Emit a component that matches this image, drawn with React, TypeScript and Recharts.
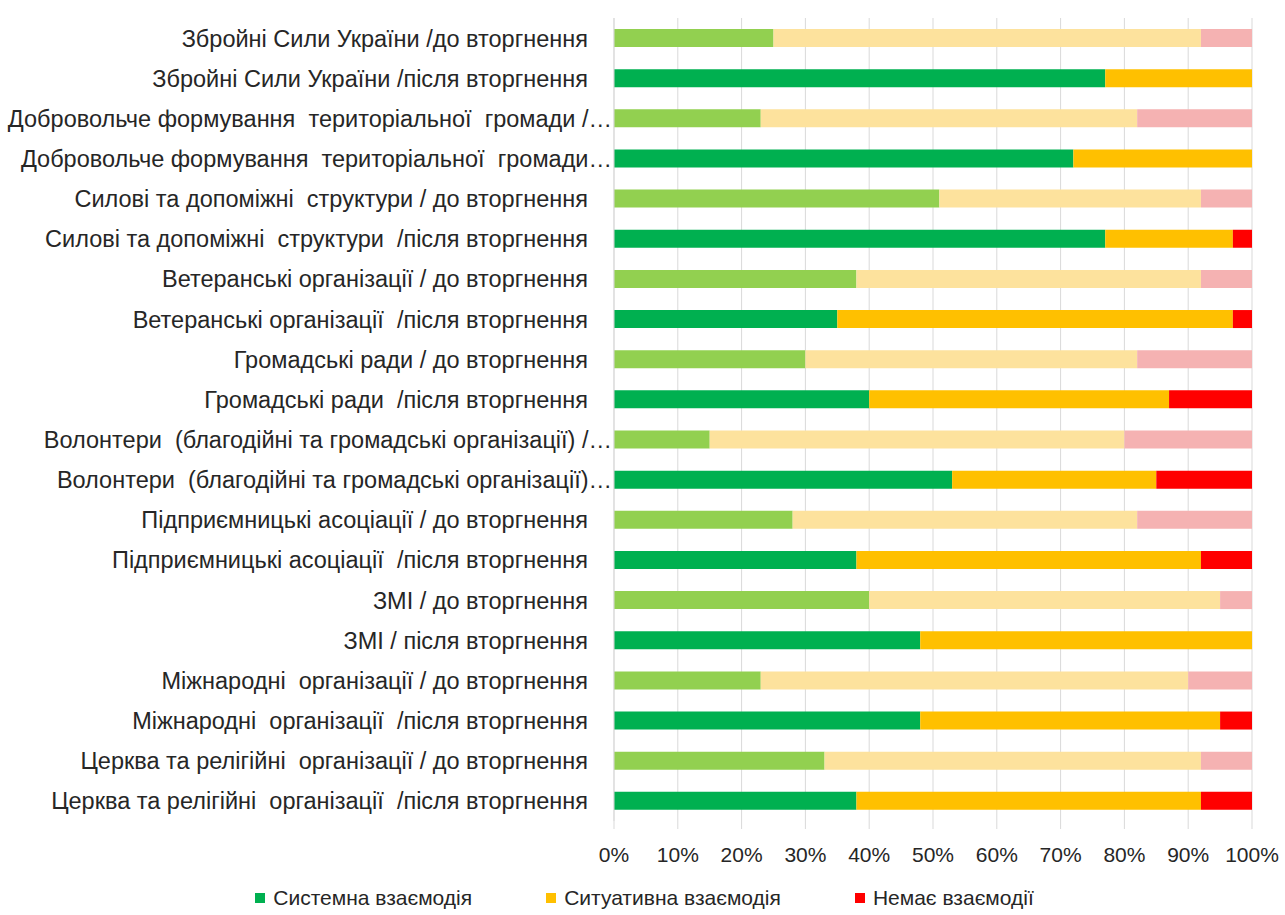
import React from 'react';
import { BarChart, Bar, XAxis, YAxis, CartesianGrid, Cell } from 'recharts';

// Row labels, top to bottom (pairs: before / after the invasion)
const categories: string[] = [
  'Збройні Сили України /до вторгнення',
  'Збройні Сили України /після вторгнення',
  'Добровольче формування  територіальної  громади /…',
  'Добровольче формування  територіальної  громади…',
  'Силові та допоміжні  структури / до вторгнення',
  'Силові та допоміжні  структури  /після вторгнення',
  'Ветеранські організації / до вторгнення',
  'Ветеранські організації  /після вторгнення',
  'Громадські ради / до вторгнення',
  'Громадські ради  /після вторгнення',
  'Волонтери  (благодійні та громадські організації) /…',
  'Волонтери  (благодійні та громадські організації)…',
  'Підприємницькі асоціації / до вторгнення',
  'Підприємницькі асоціації  /після вторгнення',
  'ЗМІ / до вторгнення',
  'ЗМІ / після вторгнення',
  'Міжнародні  організації / до вторгнення',
  'Міжнародні  організації  /після вторгнення',
  'Церква та релігійні  організації / до вторгнення',
  'Церква та релігійні  організації  /після вторгнення',
];

// Shares, %
const systemic: number[] = [25, 77, 23, 72, 51, 77, 38, 35, 30, 40, 15, 53, 28, 38, 40, 48, 23, 48, 33, 38];
const situational: number[] = [67, 23, 59, 28, 41, 20, 54, 62, 52, 47, 65, 32, 54, 54, 55, 52, 67, 47, 59, 54];
const noInteraction: number[] = [8, 0, 18, 0, 8, 3, 8, 3, 18, 13, 20, 15, 18, 8, 5, 0, 10, 5, 8, 8];

const xTicks: number[] = [0, 10, 20, 30, 40, 50, 60, 70, 80, 90, 100];

const legendNames = ['Системна взаємодія', 'Ситуативна взаємодія', 'Немає взаємодії'];

// [before, after] colour for each series
const palette = {
  systemic: ['#92D050', '#00B050'],
  situational: ['#FDE29D', '#FFC000'],
  none: ['#F5B2B2', '#FF0000'],
};

const data = categories.map((name, i) => ({
  name,
  systemic: systemic[i],
  situational: situational[i],
  none: noInteraction[i],
}));

const FONT = '"Liberation Sans", Arial, sans-serif';
const TEXT = '#262626';

const CategoryTick = (props: any) => {
  const { x, y, payload } = props;
  const label: string = payload.value;
  const shift = label.endsWith('…') ? 24 : 0;
  return (
    <text
      x={x + shift}
      y={y}
      dy="0.36em"
      textAnchor="end"
      fontSize={23.5}
      fontFamily={FONT}
      fill={TEXT}
      style={{ whiteSpace: 'pre' }}
    >
      {label}
    </text>
  );
};

const Legend = () => (
  <div
    style={{
      position: 'absolute',
      left: 0,
      top: 886,
      width: 1285,
      display: 'flex',
      justifyContent: 'center',
      paddingLeft: 4,
      fontFamily: FONT,
      fontSize: 21,
      color: TEXT,
      boxSizing: 'border-box',
    }}
  >
    {legendNames.map((n, i) => {
      const c = [palette.systemic[1], palette.situational[1], palette.none[1]][i];
      return (
        <div key={n} style={{ display: 'flex', alignItems: 'center', marginRight: i < 2 ? 74 : 0 }}>
          <span style={{ display: 'inline-block', width: 10, height: 10, background: c, marginRight: 8 }} />
          <span>{n}</span>
        </div>
      );
    })}
  </div>
);

export default function App() {
  return (
    <div style={{ position: 'absolute', left: 0, top: 0, width: 1285, height: 915, background: '#fff' }}>
      <BarChart
        width={1285}
        height={915}
        data={data}
        layout="vertical"
        margin={{ top: 18, right: 33, bottom: 54, left: 0 }}
        barSize={18}
      >
        <CartesianGrid horizontal={false} stroke="#D9D9D9" />
        <XAxis
          type="number"
          domain={[0, 100]}
          ticks={xTicks}
          interval={0}
          tickFormatter={(v: number) => `${v}%`}
          axisLine={false}
          tickLine={{ stroke: '#D9D9D9' }}
          tickSize={8}
          tickMargin={18}
          height={40}
          tick={{ fontSize: 21, fontFamily: FONT, fill: TEXT }}
        />
        <YAxis
          type="category"
          dataKey="name"
          width={614}
          interval={0}
          tickLine={false}
          tickSize={0}
          tickMargin={26}
          axisLine={{ stroke: '#D9D9D9' }}
          tick={<CategoryTick />}
        />
        <Bar dataKey="systemic" stackId="a" isAnimationActive={false}>
          {data.map((_, i) => (
            <Cell key={i} fill={palette.systemic[i % 2]} />
          ))}
        </Bar>
        <Bar dataKey="situational" stackId="a" isAnimationActive={false}>
          {data.map((_, i) => (
            <Cell key={i} fill={palette.situational[i % 2]} />
          ))}
        </Bar>
        <Bar dataKey="none" stackId="a" isAnimationActive={false}>
          {data.map((_, i) => (
            <Cell key={i} fill={palette.none[i % 2]} />
          ))}
        </Bar>
      </BarChart>
      <Legend />
    </div>
  );
}
